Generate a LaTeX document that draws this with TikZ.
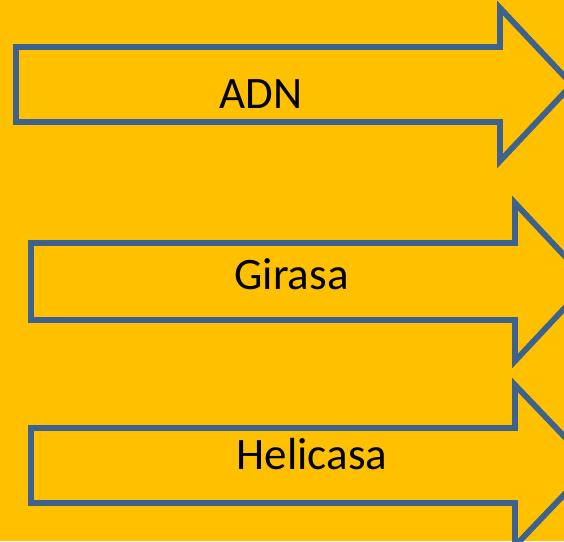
\documentclass[tikz,border=0pt]{standalone}
\usepackage{fontspec}
\setmainfont{Carlito}
\definecolor{bgorange}{RGB}{255,192,0}
\definecolor{edgeblue}{RGB}{62,98,142}
\begin{document}
\begin{tikzpicture}[x=1pt,y=-1pt,
  arrowshape/.style={draw=edgeblue,line width=5.8pt,fill=bgorange,line join=miter,miter limit=10},
  label/.style={anchor=base,inner sep=0pt,font=\fontsize{45}{54}\selectfont,text=black}]
\useasboundingbox (0,0) rectangle (564,541);
\fill[bgorange] (0,0) rectangle (564,541);
\clip (0,0) rectangle (564,541);
\draw[arrowshape] (16,47) -- (500,47) -- (500,8) -- (572,84.5) -- (500,161) -- (500,122) -- (16,122) -- cycle;
\draw[arrowshape] (31,243) -- (515,243) -- (515,203) -- (589,282) -- (515,361) -- (515,320) -- (31,320) -- cycle;
\draw[arrowshape] (31,428) -- (515,428) -- (515,385) -- (592,465.5) -- (515,546) -- (515,503) -- (31,503) -- cycle;
\node[label] (adn) at (261,108) {ADN};
\node[label] (girasa) at (291.5,289) {Girasa};
\node[label] (helicasa) at (312,469) {Helicasa};
\end{tikzpicture}
\end{document}
